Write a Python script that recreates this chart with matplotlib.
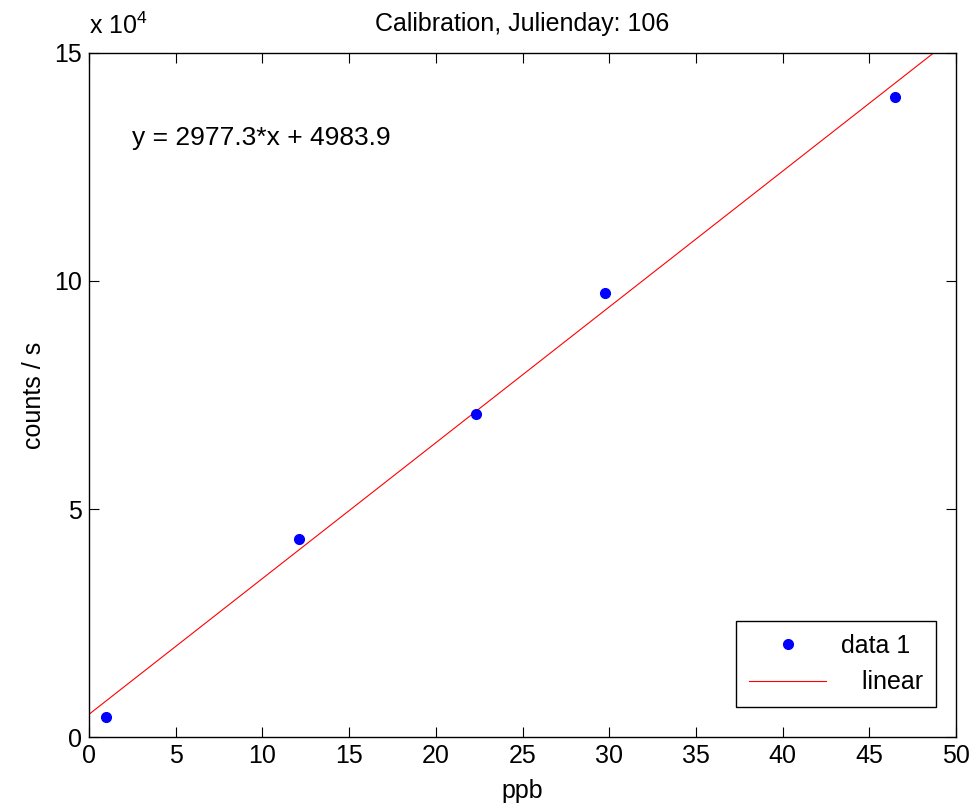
import numpy as np
import matplotlib
matplotlib.use("Agg")
import matplotlib.pyplot as plt
from matplotlib.ticker import FuncFormatter

plt.rcParams['font.family'] = ['Liberation Sans', 'DejaVu Sans']
plt.rcParams['mathtext.fontset'] = 'custom'
plt.rcParams['mathtext.rm'] = 'Liberation Sans'

# calibration points (ppb, counts/s)
ppb = [0.96, 12.13, 22.30, 29.78, 46.50]
counts = [4450, 43500, 70800, 97400, 140400]

# linear fit coefficients shown on the chart
slope = 2977.3
intercept = 4983.9

x_ticks = [0, 5, 10, 15, 20, 25, 30, 35, 40, 45, 50]
y_ticks = [0, 50000, 100000, 150000]

fig = plt.figure(figsize=(9.75, 8.1), dpi=100)
ax = fig.add_axes([0.0913, 0.0901, 0.8892, 0.8445])

xfit = np.array([0, 50])
ax.plot(xfit, slope * xfit + intercept, color='red', lw=0.8, label='   linear', zorder=2)
ax.plot(ppb, counts, 'o', color='blue', markersize=7, label='data 1', zorder=3)

ax.set_xlim(0, 50)
ax.set_ylim(0, 150000)
ax.set_xticks(x_ticks)
ax.set_yticks(y_ticks)
ax.yaxis.set_major_formatter(FuncFormatter(lambda v, _: f'{v / 1e4:g}'))
ax.tick_params(direction='in', length=7, width=0.8, top=True, right=True,
               labelsize=18, pad=5)
for s in ax.spines.values():
    s.set_linewidth(1.0)

ax.set_xlabel('ppb', fontsize=18, labelpad=8)
ax.set_ylabel('counts / s', fontsize=18, labelpad=6)
ax.set_title('Calibration, Julienday: 106', fontsize=18, pad=16)

ax.text(0.0, 1.02, r'x 10$^4$', transform=ax.transAxes, fontsize=18,
        ha='left', va='bottom')
ax.text(2.5, 129800, f'y = {slope}*x + {intercept}', fontsize=19,
        ha='left', va='baseline')

handles, labels = ax.get_legend_handles_labels()
leg = ax.legend(handles[::-1], labels[::-1], loc='lower right', fontsize=18,
                bbox_to_anchor=(0.977, 0.044), borderaxespad=0,
                fancybox=False, edgecolor='black', framealpha=1,
                handlelength=3.1, labelspacing=0.5, borderpad=0.5,
                handletextpad=0.6)
leg.get_frame().set_linewidth(1.0)

fig.savefig('out.png', dpi=100)
